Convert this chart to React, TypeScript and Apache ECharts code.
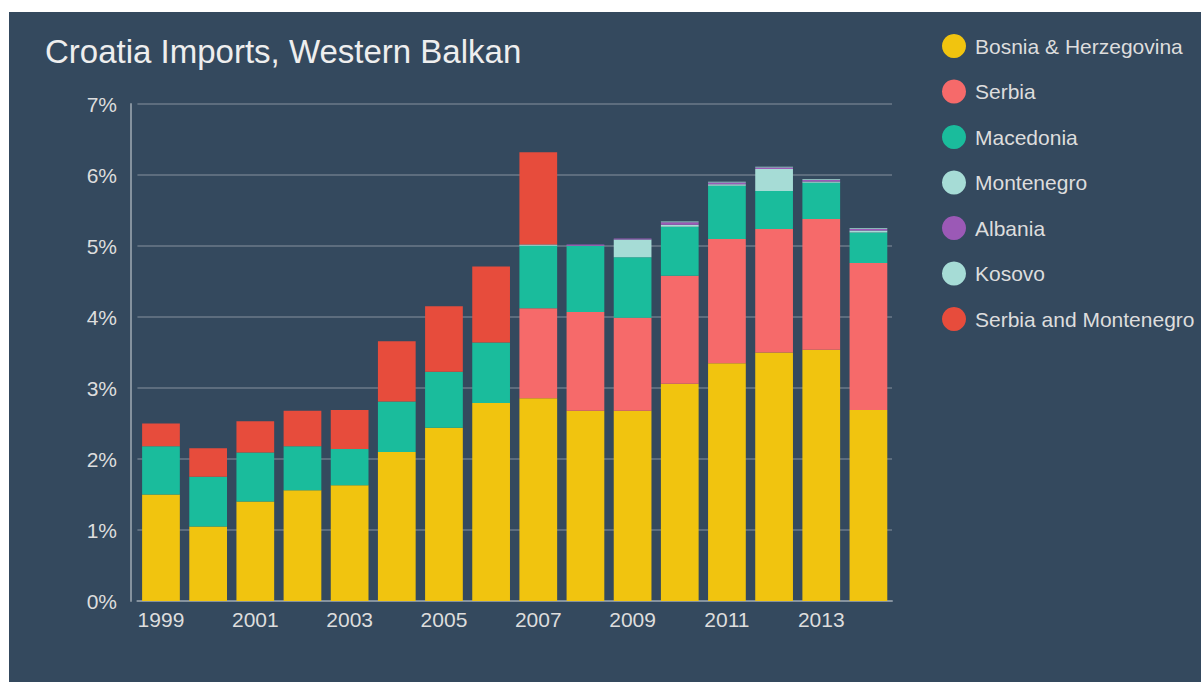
import React, { useEffect, useRef } from "react";
import * as echarts from "echarts";

const years = ["1999","2000","2001","2002","2003","2004","2005","2006","2007","2008","2009","2010","2011","2012","2013","2014"];
const bosnia = [1.50, 1.05, 1.40, 1.56, 1.63, 2.10, 2.44, 2.79, 2.855, 2.68, 2.68, 3.06, 3.35, 3.50, 3.54, 2.69];
const serbia = [null, null, null, null, null, null, null, null, 1.27, 1.39, 1.31, 1.52, 1.75, 1.74, 1.84, 2.07];
const macedonia = [0.68, 0.70, 0.69, 0.62, 0.51, 0.71, 0.79, 0.85, 0.88, 0.93, 0.85, 0.69, 0.75, 0.535, 0.51, 0.43];
const montenegro = [null, null, null, null, null, null, null, null, 0.015, 0.005, 0.25, 0.03, 0.02, 0.31, 0.02, 0.03];
const albania = [null, null, null, null, null, null, null, null, 0.0, 0.015, 0.015, 0.035, 0.025, 0.02, 0.02, 0.02];
const kosovo = [null, null, null, null, null, null, null, null, null, 0.0, 0.0, 0.01, 0.01, 0.01, 0.01, 0.01];
const serbiaMontenegro = [0.32, 0.40, 0.44, 0.50, 0.55, 0.85, 0.92, 1.07, 1.30, null, null, null, null, null, null, null];

const seriesDefs = [
  { name: "Bosnia & Herzegovina", data: bosnia, color: "#f1c40f" },
  { name: "Serbia", data: serbia, color: "#f66a6a" },
  { name: "Macedonia", data: macedonia, color: "#1abc9c" },
  { name: "Montenegro", data: montenegro, color: "#a6dcd6" },
  { name: "Albania", data: albania, color: "#9b59b6" },
  { name: "Kosovo", data: kosovo, color: "#a6dcd6" },
  { name: "Serbia and Montenegro", data: serbiaMontenegro, color: "#e74c3c" },
];

const FONT = "'Liberation Sans', Arial, sans-serif";

export default function App() {
  const ref = useRef<HTMLDivElement>(null);
  useEffect(() => {
    document.body.style.overflow = "hidden";
    const chart = echarts.init(ref.current!, null, { renderer: "svg" });
    chart.setOption({
      animation: false,
      backgroundColor: "#34495e",
      textStyle: { fontFamily: FONT },
      title: {
        text: "Croatia Imports, Western Balkan",
        left: 36,
        top: 23,
        padding: 0,
        textStyle: { color: "#eeeeee", fontSize: 33, fontWeight: "normal", fontFamily: FONT },
      },
      legend: {
        orient: "vertical",
        left: 933,
        top: 22,
        padding: 0,
        itemWidth: 24,
        itemHeight: 24,
        itemGap: 21.5,
        icon: "circle",
        textStyle: { color: "#dddddd", fontSize: 21, fontFamily: FONT, padding: [0, 0, 0, 4] },
        data: seriesDefs.map((s) => s.name),
      },
      grid: { left: 128.4, top: 92, width: 754.6, height: 497, containLabel: false },
      xAxis: {
        type: "category",
        data: years,
        axisLine: { lineStyle: { color: "#85929e", width: 2 } },
        axisTick: { show: false },
        axisLabel: { color: "#dddddd", fontSize: 21, interval: 1, margin: 8, fontFamily: FONT },
      },
      yAxis: {
        type: "value",
        min: 0,
        max: 7,
        interval: 1,
        offset: 6.4,
        axisLine: { show: true, lineStyle: { color: "#85929e", width: 2 } },
        axisTick: { show: false },
        axisLabel: { color: "#dddddd", fontSize: 21, formatter: "{value}%", margin: 14, fontFamily: FONT },
        splitLine: { lineStyle: { color: "#5d6d7e", width: 2 } },
      },
      series: seriesDefs.map((s) => ({
        name: s.name,
        type: "bar",
        stack: "total",
        data: s.data,
        barCategoryGap: "20%",
        itemStyle: { color: s.color },
        emphasis: { disabled: true },
      })),
    });
    return () => chart.dispose();
  }, []);
  return (
    <div
      ref={ref}
      style={{ position: "absolute", left: 9, top: 12, width: 1192, height: 670 }}
    />
  );
}
